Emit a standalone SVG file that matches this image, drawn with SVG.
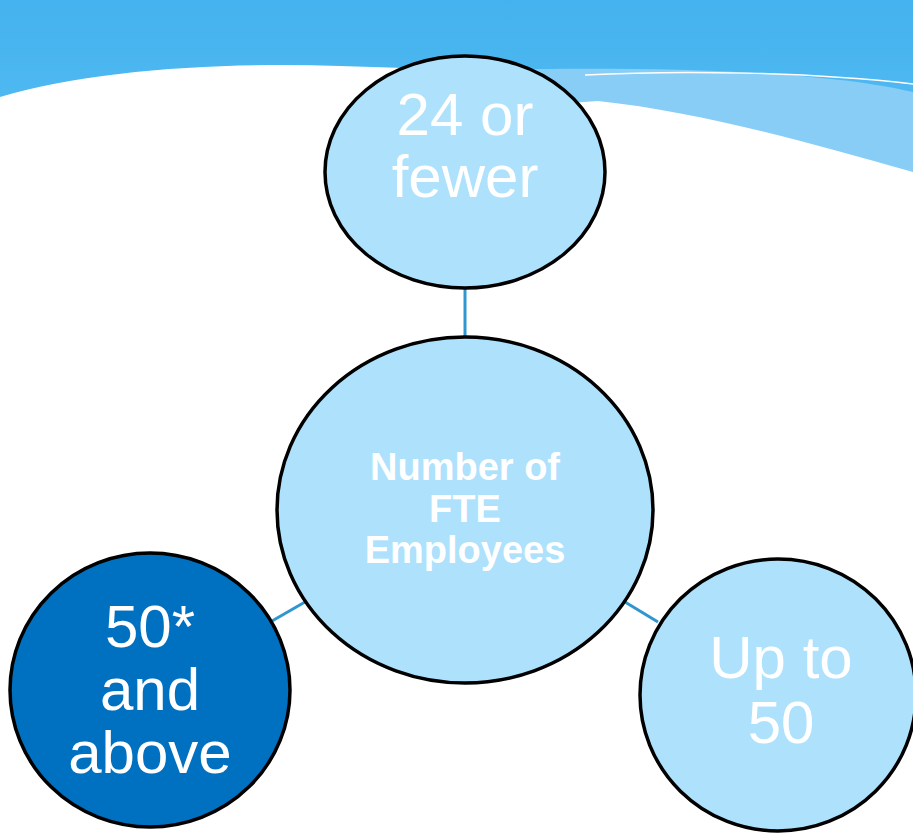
<svg xmlns="http://www.w3.org/2000/svg" width="913" height="833" viewBox="0 0 913 833">
<defs>
<linearGradient id="sky" x1="0" y1="0" x2="0" y2="1">
<stop offset="0" stop-color="#44b2ee"/>
<stop offset="1" stop-color="#56bdf3"/>
</linearGradient>
<style>
.node{stroke:#000;stroke-width:3.5}
.light{fill:#ade1fc}
.dark{fill:#0070c0}
.big{font-family:"Liberation Sans",Arial,sans-serif;font-size:60px;fill:#fff;text-anchor:middle}
.bold{font-family:"Liberation Sans",Arial,sans-serif;font-size:38px;font-weight:bold;fill:#fff;text-anchor:middle}
.conn{stroke:#2f96d0;stroke-width:3;fill:none}
</style>
</defs>
<g id="background">
<rect x="0" y="0" width="913" height="180" fill="url(#sky)"/>
<path d="M470,70 C650,66 820,70 913,92 V180 H470 Z" fill="#87cdf6"/>
<path d="M0,97 C90,70 220,62 340,66 L470,70 L470,110 L598,101 C700,112 800,140 913,172 V833 H0 Z" fill="#fff"/>
<path d="M585,75 C680,70 810,72 913,84" stroke="#fff" stroke-width="1.5" fill="none"/>
</g>
<g id="connectors">
<line class="conn" x1="465" y1="288" x2="465" y2="337"/>
<line class="conn" x1="305" y1="602" x2="272" y2="621"/>
<line class="conn" x1="625" y1="602" x2="658" y2="622"/>
</g>
<g id="node-center">
<ellipse class="node light" cx="465" cy="510" rx="188" ry="173"/>
<text class="bold" x="465" y="480">Number of</text>
<text class="bold" x="465" y="522">FTE</text>
<text class="bold" x="465" y="563">Employees</text>
</g>
<g id="node-top">
<ellipse class="node light" cx="465" cy="172" rx="140" ry="116"/>
<text class="big" x="465" y="135">24 or</text>
<text class="big" x="465" y="197">fewer</text>
</g>
<g id="node-left">
<ellipse class="node dark" cx="150" cy="690" rx="140" ry="137"/>
<text class="big" x="150" y="647">50*</text>
<text class="big" x="150" y="710">and</text>
<text class="big" x="150" y="773">above</text>
</g>
<g id="node-right">
<ellipse class="node light" cx="778" cy="695" rx="138" ry="136"/>
<text class="big" x="781" y="678">Up to</text>
<text class="big" x="781" y="743">50</text>
</g>
</svg>
